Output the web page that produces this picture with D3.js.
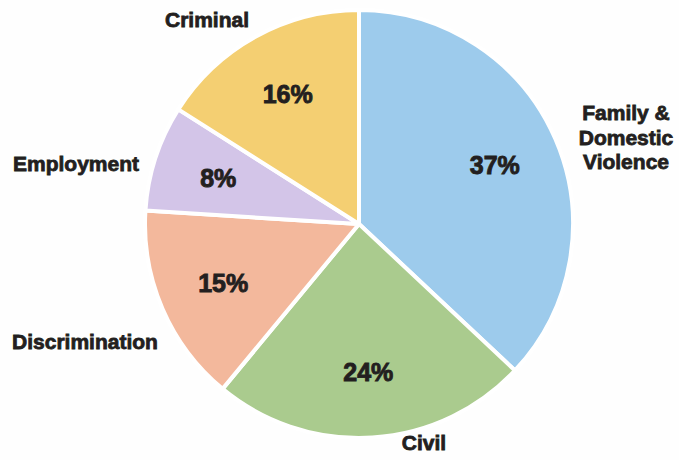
<!DOCTYPE html>
<html>
<head>
<meta charset="utf-8">
<script src="https://cdn.jsdelivr.net/npm/d3@7"></script>
<style>
  body { margin: 0; background: #fefefe; }
  svg text { font-family: "Liberation Sans", Arial, sans-serif; font-weight: bold; fill: #231f20; stroke: #231f20; }
</style>
</head>
<body>
<svg width="679" height="460"></svg>
<script>
// data
const categories = ['Family & Domestic Violence', 'Civil', 'Discrimination', 'Employment', 'Criminal'];
const shares = [37, 24, 15, 8, 16];
const colors = ['#9dcbec', '#aacb8e', '#f3b89c', '#d3c5e8', '#f4cf72'];

// outer label layout (text lines, anchor point, baseline of first line)
const outerLabels = [
  {lines: ['Family &', 'Domestic', 'Violence'], x: 626, y: 120},
  {lines: ['Civil'], x: 424, y: 450},
  {lines: ['Discrimination'], x: 85, y: 349},
  {lines: ['Employment'], x: 76, y: 171},
  {lines: ['Criminal'], x: 207, y: 27}
];

const svg = d3.select('svg');
const cx = 359, cy = 224, radius = 214;

const pie = d3.pie().sort(null).value(d => d);
const arcs = pie(shares);

const arc = d3.arc().innerRadius(0).outerRadius(radius);
const labelArc = d3.arc().innerRadius(148).outerRadius(148);

const g = svg.append('g')
  .attr('transform', 'translate(' + cx + ',' + cy + ')');

g.selectAll('.slice')
  .data(arcs)
  .enter()
  .append('path')
  .attr('class', 'slice')
  .attr('d', arc)
  .attr('fill', (d, i) => colors[i])
  .attr('stroke', '#fff')
  .attr('stroke-width', 4)
  .attr('stroke-linejoin', 'round');

g.selectAll('.pct')
  .data(arcs)
  .enter()
  .append('text')
  .attr('class', 'pct')
  .attr('transform', d => 'translate(' + labelArc.centroid(d) + ')')
  .attr('text-anchor', 'middle')
  .attr('dy', '0.36em')
  .style('font-size', '25px')
  .style('stroke-width', 0.9)
  .text(d => d.data + '%');

const cat = svg.selectAll('.cat')
  .data(outerLabels)
  .enter()
  .append('text')
  .attr('class', 'cat')
  .attr('text-anchor', 'middle')
  .style('font-size', '21px')
  .style('stroke-width', 0.8);

cat.selectAll('tspan')
  .data(d => d.lines.map((l, i) => ({text: l, x: d.x, y: d.y + i * 24.5})))
  .enter()
  .append('tspan')
  .attr('x', d => d.x)
  .attr('y', d => d.y)
  .text(d => d.text);
</script>
</body>
</html>
